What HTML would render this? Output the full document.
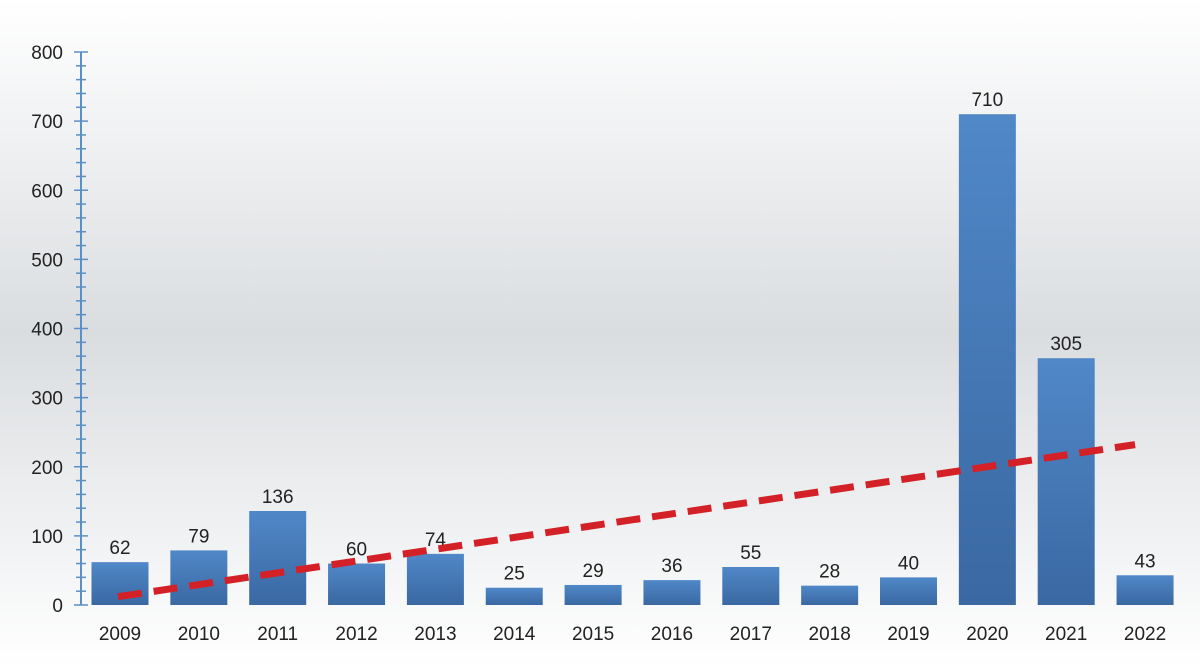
<!DOCTYPE html>
<html><head><meta charset="utf-8"><style>
html,body{margin:0;padding:0;width:1200px;height:667px;overflow:hidden;font-family:"Liberation Sans",sans-serif;}
</style></head><body>
<svg id="chart" width="1200" height="667" xmlns="http://www.w3.org/2000/svg">
<defs>
<linearGradient id="bg" x1="0" y1="0" x2="0" y2="1">
<stop offset="0" stop-color="#ffffff"/><stop offset="0.5" stop-color="#dadde0"/><stop offset="1" stop-color="#ffffff"/>
</linearGradient>
<linearGradient id="barg" x1="0" y1="0" x2="0" y2="1">
<stop offset="0" stop-color="#5088c8"/><stop offset="1" stop-color="#3a68a2"/>
</linearGradient>
</defs>
<rect width="1200" height="667" fill="url(#bg)"/>
<g id="axis"></g><g id="bars"></g><g id="trend"></g>
</svg>
<script>
const categories=["2009","2010","2011","2012","2013","2014","2015","2016","2017","2018","2019","2020","2021","2022"];
const values=[62,79,136,60,74,25,29,36,55,28,40,710,357,43];
const valueLabels=["62","79","136","60","74","25","29","36","55","28","40","710","305","43"];
const yTicks=[0,100,200,300,400,500,600,700,800];
const trendStart=12, trendEnd=232;
const NS="http://www.w3.org/2000/svg";
const y0=605,y1=52,ymax=800;
const yS=v=>y0-(v/ymax)*(y0-y1);
const xC=i=>120+i*78.85;
const bw=57;
function mk(t,a,p){const e=document.createElementNS(NS,t);for(const k in a)e.setAttribute(k,a[k]);p.appendChild(e);return e;}
const ax=document.getElementById('axis');
const axl=mk('line',{x1:81,y1:y0,x2:81,y2:y1,stroke:'#5b8fc7','stroke-width':2},ax);


for(let v=0;v<=ymax;v+=20){
  const major=v%100===0;
  const t=mk('line',{x1:major?74:76,x2:major?88:86,y1:yS(v),y2:yS(v),stroke:'#5b8fc7','stroke-width':1.5},ax);
  
  
}
yTicks.forEach(v=>{
  const t=mk('text',{x:63,y:yS(v)+7,'text-anchor':'end','font-size':19,fill:'#222'},ax);
  t.textContent=v;
  
  
});
const bg=document.getElementById('bars');
categories.forEach((c,i)=>{
  const r=mk('rect',{x:xC(i)-bw/2,y:yS(values[i]),width:bw,height:y0-yS(values[i]),fill:'url(#barg)'},bg);
  
  
  const l=mk('text',{x:xC(i),y:yS(values[i])-8,'text-anchor':'middle','font-size':19,fill:'#222'},bg);
  l.textContent=valueLabels[i];
  
  
  const x=mk('text',{x:xC(i),y:640,'text-anchor':'middle','font-size':19,fill:'#222'},bg);
  x.textContent=c;
  
  
});
const tr=mk('line',{x1:xC(0)-2,y1:yS(trendStart),x2:xC(13)-10,y2:yS(trendEnd),stroke:'#d42027','stroke-width':7,'stroke-dasharray':'24 12'},document.getElementById('trend'));


</script>
</body></html>
